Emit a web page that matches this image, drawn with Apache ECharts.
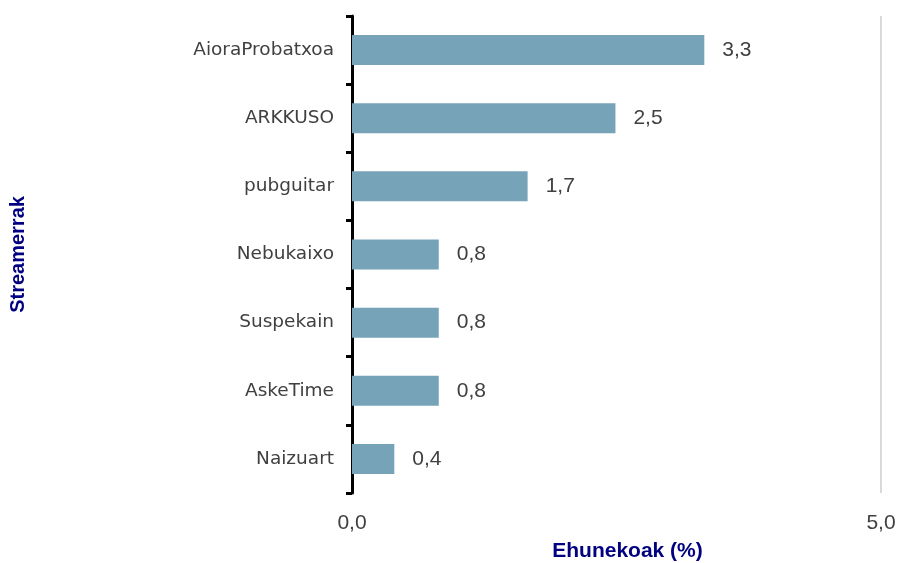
<!DOCTYPE html>
<html><head><meta charset="utf-8">
<script src="https://cdn.jsdelivr.net/npm/echarts@6/dist/echarts.min.js"></script>
<style>html,body{margin:0;padding:0;background:#fff}#c{width:899px;height:563px}</style>
</head><body><div id="c"></div>
<script>
const categories = ["AioraProbatxoa","ARKKUSO","pubguitar","Nebukaixo","Suspekain","AskeTime","Naizuart"];
const values = [3.33, 2.49, 1.66, 0.82, 0.82, 0.82, 0.40];
const xTicks = [0, 5];
const fmt = v => v.toFixed(1).replace('.', ',');
const chart = echarts.init(document.getElementById('c'));
chart.setOption({
  animation: false,
  grid: {left: 352, right: 18, top: 16, bottom: 70, containLabel: false, outerBoundsMode: 'none'},
  xAxis: {
    type: 'value', min: xTicks[0], max: xTicks[1], interval: 5,
    name: 'Ehunekoak (%)', nameLocation: 'middle', nameGap: 48,
    nameTextStyle: {fontFamily: 'Liberation Sans', fontWeight: 'bold', fontSize: 21, color: '#000080', padding: [0,0,0,22]},
    axisLine: {show: false}, axisTick: {show: false},
    axisLabel: {formatter: fmt, fontFamily: 'Liberation Sans', fontSize: 21, color: '#404040', margin: 20},
    splitLine: {show: true, lineStyle: {color: '#d9d9d9', width: 2}}
  },
  yAxis: {
    type: 'category', data: categories, inverse: true,
    name: 'Streamerrak', nameLocation: 'middle', nameGap: 324, nameRotate: 90,
    nameTextStyle: {fontFamily: 'Liberation Sans', fontWeight: 'bold', fontSize: 20, color: '#000080'},
    axisLine: {show: true, lineStyle: {color: '#000', width: 3}},
    axisTick: {show: true, length: 6, lineStyle: {color: '#000', width: 3}},
    axisLabel: {fontFamily: 'DejaVu Sans', fontSize: 18.5, color: '#404040', margin: 18}
  },
  series: [{
    type: 'bar', data: values, barWidth: 30,
    itemStyle: {color: '#77a3b8'},
    label: {show: true, position: 'right', distance: 18, formatter: p => fmt(p.value),
      fontFamily: 'Liberation Sans', fontSize: 21, color: '#404040'}
  }]
});
</script></body></html>
